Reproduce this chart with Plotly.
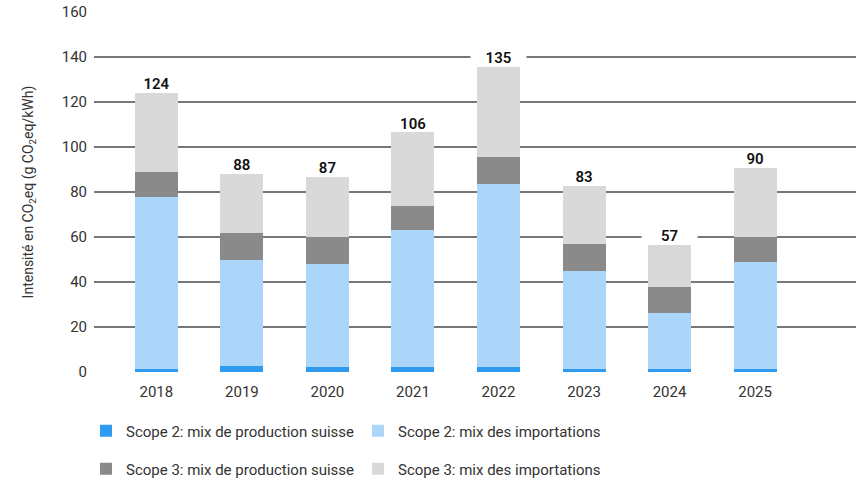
import plotly.graph_objects as go

years = ["2018", "2019", "2020", "2021", "2022", "2023", "2024", "2025"]

# segments, bottom to top (g CO2eq/kWh)
scope2_suisse = [1.2, 2.5, 2.1, 2.1, 2.1, 1.3, 1.3, 1.3]
scope2_import = [76.8, 47.5, 45.9, 60.9, 81.5, 43.7, 24.9, 47.7]
scope3_suisse = [11.0, 12.0, 12.0, 11.0, 12.0, 12.0, 11.8, 11.0]
scope3_import = [35.0, 26.0, 26.8, 32.5, 39.9, 25.7, 18.5, 30.7]
total_labels = ["124", "88", "87", "106", "135", "83", "57", "90"]

series = [
    ("Scope 2: mix de production suisse", scope2_suisse, "#2E9BF0", "legend"),
    ("Scope 2: mix des importations", scope2_import, "#ABD6FA", "legend"),
    ("Scope 3: mix de production suisse", scope3_suisse, "#8A8A8A", "legend2"),
    ("Scope 3: mix des importations", scope3_import, "#D9D9D9", "legend2"),
]

FONT = "Roboto, Arial, sans-serif"
TXT = "#333333"

fig = go.Figure()
for name, vals, color, leg in series:
    fig.add_trace(go.Bar(
        x=years, y=vals, name=name, marker=dict(color=color, line=dict(width=0)),
        width=0.503, legend=leg,
    ))

totals = [sum(v) for v in zip(scope2_suisse, scope2_import, scope3_suisse, scope3_import)]

# white patch behind each total label (hides the gridline under it)
fig.add_trace(go.Scatter(
    x=years, y=[t + 5 for t in totals], mode="markers", showlegend=False, hoverinfo="skip",
    marker=dict(symbol="line-ew", size=40, color="white", line=dict(color="white", width=17)),
))
fig.add_trace(go.Scatter(
    x=years, y=totals, mode="text", text=total_labels, textposition="top center",
    showlegend=False, hoverinfo="skip",
    textfont=dict(family=FONT, size=15, color="#111111", weight=600),
))

leg_common = dict(
    orientation="h", xref="container", yref="container", xanchor="left", yanchor="middle",
    entrywidth=227, entrywidthmode="pixels", traceorder="normal",
    font=dict(family=FONT, size=15, color=TXT), bgcolor="rgba(0,0,0,0)",
)

fig.update_layout(
    width=856, height=481,
    barmode="stack",
    plot_bgcolor="white", paper_bgcolor="white",
    margin=dict(l=94, r=0, t=12, b=109),
    font=dict(family=FONT, size=15, color=TXT),
    xaxis=dict(
        type="category", range=[-0.729, 8.18], showgrid=False, zeroline=False,
        showline=False, ticks="", ticklabelstandoff=9, tickfont=dict(size=15, color=TXT),
    ),
    yaxis=dict(
        range=[0, 160], dtick=20, showgrid=True, gridcolor="#777777", gridwidth=1.5,
        zeroline=False, showline=False, ticks="", ticklabelstandoff=6,
        tickfont=dict(size=15, color=TXT),
        title=dict(text="Intensité en CO<sub>2</sub>eq (g CO<sub>2</sub>eq/kWh)",
                   font=dict(size=14, color=TXT), standoff=24),
    ),
    legend=dict(x=86 / 856, y=1 - 431 / 481, **leg_common),
    legend2=dict(x=86 / 856, y=1 - 469 / 481, **leg_common),
)

fig.write_html("out.html", post_script="document.body.style.margin='0';",
               config={"displayModeBar": False})
